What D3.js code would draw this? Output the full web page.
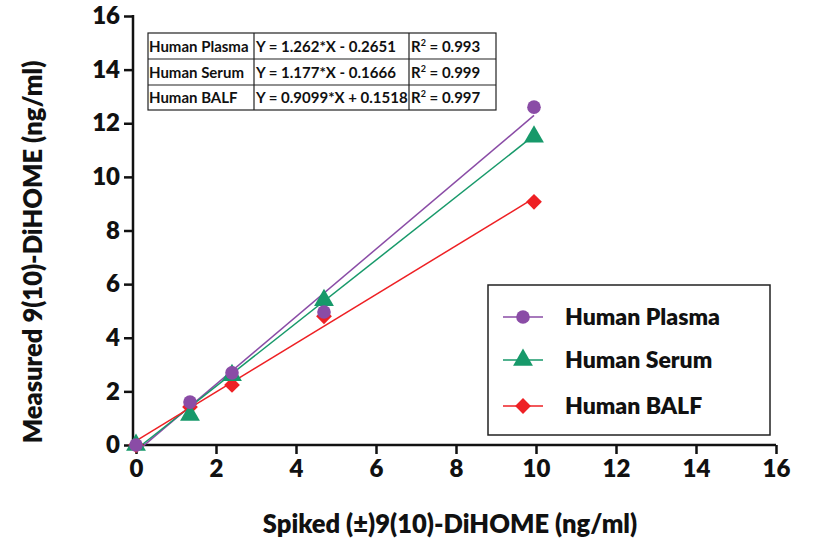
<!DOCTYPE html>
<html>
<head>
<meta charset="utf-8">
<script src="https://cdn.jsdelivr.net/npm/d3@7"></script>
<style>
  body { margin: 0; background: #fff; }
  text { font-family: Lato, "Open Sans", sans-serif; }
</style>
</head>
<body>
<div class="container"></div>
<script>
const spiked = [0, 1.35, 2.4, 4.7, 9.95]
const plasma = [0, 1.6, 2.69, 4.96, 12.6]
const serum = [0, 1.12, 2.6, 5.4, 11.5]
const balf = [0, 1.42, 2.24, 4.8, 9.07]

const seriesNames = ['Human Plasma', 'Human Serum', 'Human BALF']
const slopes = [1.262, 1.177, 0.9099]
const intercepts = [-0.2651, -0.1666, 0.1518]
const equations = ['Y = 1.262*X - 0.2651', 'Y = 1.177*X - 0.1666', 'Y = 0.9099*X + 0.1518']
const r2 = ['0.993', '0.999', '0.997']
const colors = ['#8a4ca6', '#17996a', '#ee2024']
const xTicks = [0, 2, 4, 6, 8, 10, 12, 14, 16]
const yTicks = [0, 2, 4, 6, 8, 10, 12, 14, 16]

const series = [plasma, serum, balf]

const svg = d3.select('.container')
    .append('svg')
    .attr('width', 813)
    .attr('height', 540)

const xScale = d3.scaleLinear().domain([0, 16]).range([136, 776])
const yScale = d3.scaleLinear().domain([0, 16]).range([445, 16])

// axes
const xAxis = svg.append('g')
    .attr('transform', 'translate(0, 445)')
    .call(d3.axisBottom(xScale).tickValues(xTicks).tickSize(9).tickPadding(6).tickFormat(d3.format('d')))
const yAxis = svg.append('g')
    .attr('transform', 'translate(133, 0)')
    .call(d3.axisLeft(yScale).tickValues(yTicks).tickSize(9).tickPadding(4).tickFormat(d3.format('d')))

;[xAxis, yAxis].forEach(a => {
    a.select('.domain').attr('stroke', '#111').attr('stroke-width', 2.5)
    a.selectAll('.tick line').attr('stroke', '#111').attr('stroke-width', 2.5)
    a.selectAll('.tick text')
        .attr('fill', '#111')
        .style('font-size', '24px')
        .style('font-weight', '800')
})
xAxis.select('.domain').attr('d', 'M133,0H776')
yAxis.select('.domain').attr('d', 'M0,446V15')

// regression lines
series.forEach((s, i) => {
    const x0 = 0, x1 = d3.max(spiked)
    svg.append('line')
        .attr('x1', xScale(x0)).attr('y1', yScale(slopes[i] * x0 + intercepts[i]))
        .attr('x2', xScale(x1)).attr('y2', yScale(slopes[i] * x1 + intercepts[i]))
        .attr('stroke', colors[i])
        .attr('stroke-width', 1.5)
})

// markers
const symbols = [d3.symbolCircle, d3.symbolTriangle, d3.symbolSquare]
const sizes = [145, 170, 125]
const rot = [0, 0, 45]
series.slice().reverse().forEach((s, ri) => {
    const i = series.length - 1 - ri
    svg.append('g').selectAll('path')
        .data(s)
        .enter()
        .append('path')
        .attr('d', d3.symbol().type(symbols[i]).size(sizes[i]))
        .attr('transform', (d, j) => 'translate(' + xScale(spiked[j]) + ',' + yScale(d) + ') rotate(' + rot[i] + ')')
        .attr('fill', colors[i])
})

// equation table
const tbl = svg.append('g')
const colX = [148, 254, 409, 496]
const rowY = [33, 59, 85, 110]
tbl.append('rect')
    .attr('x', colX[0]).attr('y', rowY[0])
    .attr('width', colX[3] - colX[0]).attr('height', rowY[3] - rowY[0])
    .attr('fill', '#fff').attr('stroke', '#222').attr('stroke-width', 1.2)
colX.slice(1, 3).forEach(x => {
    tbl.append('line').attr('x1', x).attr('x2', x).attr('y1', rowY[0]).attr('y2', rowY[3])
        .attr('stroke', '#222').attr('stroke-width', 1.2)
})
rowY.slice(1, 3).forEach(y => {
    tbl.append('line').attr('x1', colX[0]).attr('x2', colX[3]).attr('y1', y).attr('y2', y)
        .attr('stroke', '#222').attr('stroke-width', 1.2)
})
seriesNames.forEach((name, i) => {
    const cy = (rowY[i] + rowY[i + 1]) / 2 + 5.5
    tbl.append('text').attr('x', colX[0] + 1).attr('y', cy)
        .style('font-size', '15px').style('font-weight', 'bold').attr('fill', '#111')
        .text(name)
    tbl.append('text').attr('x', colX[1] + 2).attr('y', cy)
        .style('font-size', '15px').style('font-weight', 'bold').attr('fill', '#111')
        .text(equations[i])
    const t = tbl.append('text').attr('x', colX[2] + 2).attr('y', cy)
        .style('font-size', '15px').style('font-weight', 'bold').attr('fill', '#111')
    t.append('tspan').text('R')
    t.append('tspan').attr('dy', -6).style('font-size', '9px').text('2')
    t.append('tspan').attr('dy', 6).text(' = ' + r2[i])
})

// legend
const leg = svg.append('g')
leg.append('rect')
    .attr('x', 488).attr('y', 285).attr('width', 282).attr('height', 150)
    .attr('fill', '#fff').attr('stroke', '#222').attr('stroke-width', 1.5)
const legY = [317, 360, 406]
seriesNames.forEach((name, i) => {
    leg.append('line').attr('x1', 503).attr('x2', 543).attr('y1', legY[i]).attr('y2', legY[i])
        .attr('stroke', colors[i]).attr('stroke-width', 1.5)
    leg.append('path')
        .attr('d', d3.symbol().type(symbols[i]).size(sizes[i]))
        .attr('transform', 'translate(523,' + legY[i] + ') rotate(' + rot[i] + ')')
        .attr('fill', colors[i])
    leg.append('text').attr('x', 565).attr('y', legY[i] + 8)
        .style('font-size', '23px').style('font-weight', '800').attr('fill', '#111')
        .text(name)
})

// axis titles
svg.append('text')
    .attr('x', 450).attr('y', 533)
    .attr('text-anchor', 'middle')
    .style('font-size', '25.5px').style('font-weight', '800').attr('fill', '#111')
    .text('Spiked (±)9(10)-DiHOME (ng/ml)')
svg.append('text')
    .attr('transform', 'translate(42, 252) rotate(-90)')
    .attr('text-anchor', 'middle')
    .style('font-size', '25.5px').style('font-weight', '800').attr('fill', '#111')
    .text('Measured 9(10)-DiHOME (ng/ml)')
</script>
</body>
</html>
